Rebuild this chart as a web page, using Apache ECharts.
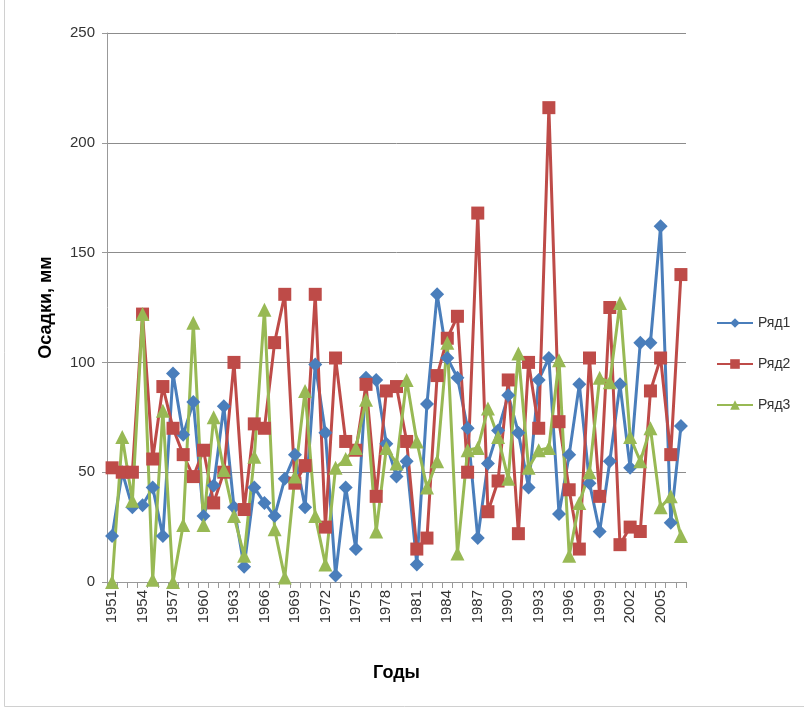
<!DOCTYPE html>
<html>
<head>
<meta charset="utf-8">
<script src="https://cdn.jsdelivr.net/npm/echarts@6/dist/echarts.min.js"></script>
<style>
  html, body { margin: 0; padding: 0; background: #fff; }
  #chart { width: 804px; height: 710px; }
</style>
</head>
<body>
<div id="chart"></div>
<script>
// Годы наблюдений 1951–2007
const years = [];
for (let y = 1951; y <= 2007; y++) years.push(String(y));

// Осадки, мм
const series1 = [21, 50, 34, 35, 43, 21, 95, 67, 82, 30, 44, 80, 34, 7, 43, 36, 30, 47, 58, 34,
  99, 68, 3, 43, 15, 93, 92, 63, 48, 55, 8, 81, 131, 102, 93, 70, 20, 54, 69, 85,
  68, 43, 92, 102, 31, 58, 90, 45, 23, 55, 90, 52, 109, 109, 162, 27, 71];
const series2 = [52, 50, 50, 122, 56, 89, 70, 58, 48, 60, 36, 50, 100, 33, 72, 70, 109, 131, 45, 53,
  131, 25, 102, 64, 60, 90, 39, 87, 89, 64, 15, 20, 94, 111, 121, 50, 168, 32, 46, 92,
  22, 100, 70, 216, 73, 42, 15, 102, 39, 125, 17, 25, 23, 87, 102, 58, 140];
const series3 = [0, 66, 37, 122, 1, 78, 0, 26, 118, 26, 75, 51, 30, 12, 57, 124, 24, 2, 48, 87,
  30, 8, 52, 56, 61, 83, 23, 61, 54, 92, 64, 43, 55, 109, 13, 60, 61, 79, 66, 47,
  104, 52, 60, 61, 101, 12, 36, 50, 93, 91, 127, 66, 55, 70, 34, 39, 21];

const seriesNames = ['Ряд1', 'Ряд2', 'Ряд3'];
const colors = ['#4a7ebb', '#be4b48', '#98b954'];
const font = 'Liberation Sans, Arial, sans-serif';

const chart = echarts.init(document.getElementById('chart'), null, { renderer: 'canvas' });

function line(name, data, symbol, size, color) {
  return {
    name, type: 'line', data, symbol, symbolSize: size,
    showSymbol: true, showAllSymbol: true,
    lineStyle: { width: 3, color },
    itemStyle: { color },
    emphasis: { disabled: true },
    animation: false
  };
}

chart.setOption({
  backgroundColor: '#fff',
  animation: false,
  color: colors,
  graphic: [{
    type: 'rect', silent: true, z: -1,
    shape: { x: 4.5, y: -2, width: 802, height: 708.5 },
    style: { fill: 'none', stroke: '#d0d0d0', lineWidth: 1 }
  }],
  grid: { left: 107, right: 118, top: 33, bottom: 128 },
  legend: {
    orient: 'vertical', left: 711, top: 311,
    itemWidth: 36, itemHeight: 12, itemGap: 27,
    textStyle: { fontFamily: font, fontSize: 14, color: '#333' },
    data: seriesNames
  },
  xAxis: {
    type: 'category', data: years, boundaryGap: true,
    name: 'Годы', nameLocation: 'middle', nameGap: 82,
    nameTextStyle: { fontFamily: font, fontSize: 18, fontWeight: 'bold', color: '#000' },
    axisLine: { lineStyle: { color: '#999', width: 1 } },
    axisTick: { show: true, interval: 0, length: 6, lineStyle: { color: '#999' } },
    axisLabel: { interval: 2, rotate: 90, fontFamily: font, fontSize: 15, color: '#333', margin: 8 },
    splitLine: { show: false }
  },
  yAxis: {
    type: 'value', min: 0, max: 250, interval: 50,
    name: 'Осадки, мм', nameLocation: 'middle', nameGap: 52,
    nameTextStyle: { fontFamily: font, fontSize: 18, fontWeight: 'bold', color: '#000' },
    axisLine: { show: true, lineStyle: { color: '#999', width: 1 } },
    axisTick: { show: true, length: 5, lineStyle: { color: '#999' } },
    axisLabel: { fontFamily: font, fontSize: 15, color: '#333', margin: 12 },
    splitLine: { show: true, lineStyle: { color: '#8c8c8c', width: 1 } }
  },
  series: [
    line(seriesNames[0], series1, 'diamond', 14, colors[0]),
    line(seriesNames[1], series2, 'rect', 13, colors[1]),
    line(seriesNames[2], series3, 'triangle', 14, colors[2])
  ]
});
</script>
</body>
</html>
